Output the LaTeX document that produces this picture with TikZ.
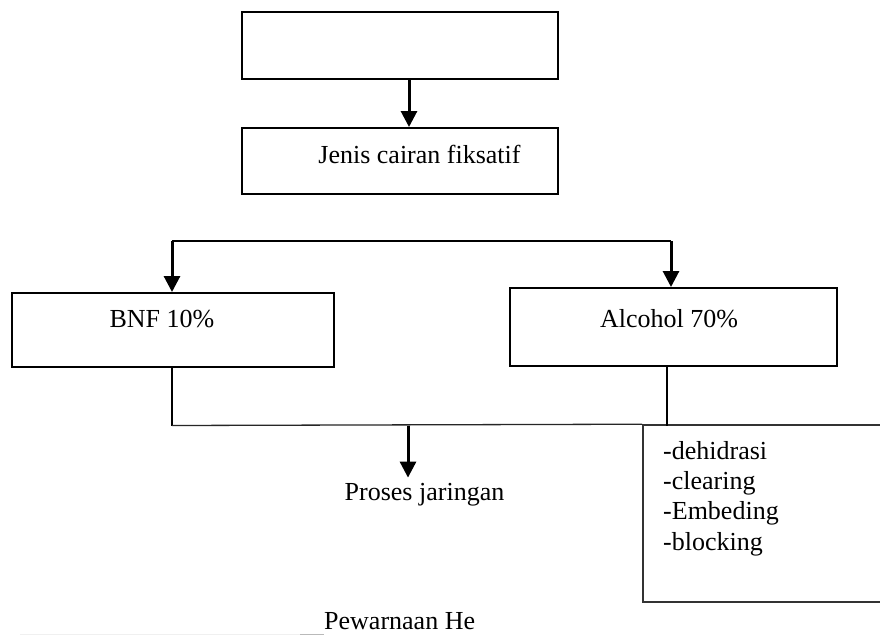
\documentclass[tikz,border=0pt]{standalone}
\usepackage{fontspec}
\setmainfont{Liberation Serif}
\usetikzlibrary{arrows.meta}
\begin{document}
\begin{tikzpicture}[x=1pt,y=-1pt,
  box/.style={draw, line width=2pt, rectangle, inner sep=0pt},
  txt/.style={inner sep=0pt, font=\fontsize{26}{30.3}\selectfont},
  arr/.style={line width=3pt, -{Triangle[width=16pt,length=16pt]}},
  thinline/.style={line width=1.3pt},
  midline/.style={line width=2pt}]
\clip (0,0) rectangle (880,635);
\fill[white] (0,0) rectangle (880,635);
% boxes
\node[box, minimum width=316pt, minimum height=67pt] (top) at (400,45.5) {};
\node[box, minimum width=316pt, minimum height=66pt] (jenis) at (400,161) {};
\node[box, minimum width=322pt, minimum height=74pt] (bnf) at (173,330) {};
\node[box, minimum width=327pt, minimum height=78pt] (alc) at (673.5,327) {};
\node[draw=black!80, line width=1.6pt, rectangle, inner sep=0pt,
      minimum width=262pt, minimum height=177pt] (list) at (774,513.5) {};
% texts
\node[txt, anchor=base] (tjenis) at (419.5,163) {Jenis cairan fiksatif};
\node[txt, anchor=base] (tbnf) at (162,327) {BNF 10\%};
\node[txt, anchor=base] (talc) at (669,327) {Alcohol 70\%};
\node[txt, anchor=north west, align=left] (tlist) at (663,441)
  {-dehidrasi\\-clearing\\-Embeding\\-blocking};
\node[txt, anchor=base, inner sep=5pt] (proses) at (424.5,500) {Proses jaringan};
\node[txt, anchor=base west] (pew) at (324,629) {Pewarnaan He};
% connectors
\draw[arr] ([xshift=9pt]top.south) -- ([xshift=9pt]jenis.north);
\coordinate (hl) at (172,241);
\coordinate (hr) at (671,241);
\draw[thinline] (hl) -- (hr);
\draw[arr] (hl) -- (hl |- bnf.north);
\draw[arr] (hr) -- (hr |- alc.north);
\coordinate (jl) at (172,425.5);
\coordinate (jr) at (667,425.5);
\coordinate (mid) at (408,425.5);
\draw[midline] (jl |- bnf.south) -- (jl);
\draw[midline] (jr |- alc.south) -- (jr);
\draw[thinline, black!85] (jl) -- (list.north west);
\draw[arr] (mid) -- (mid |- proses.north);
% faint line at bottom
\coordinate (fl) at (20,634);
\coordinate (fm) at (300,634);
\draw[gray!12, line width=1pt] (fl) -- (fm);
\draw[gray!55, line width=1pt] (fm) -- (fm -| pew.west);
\end{tikzpicture}
\end{document}
